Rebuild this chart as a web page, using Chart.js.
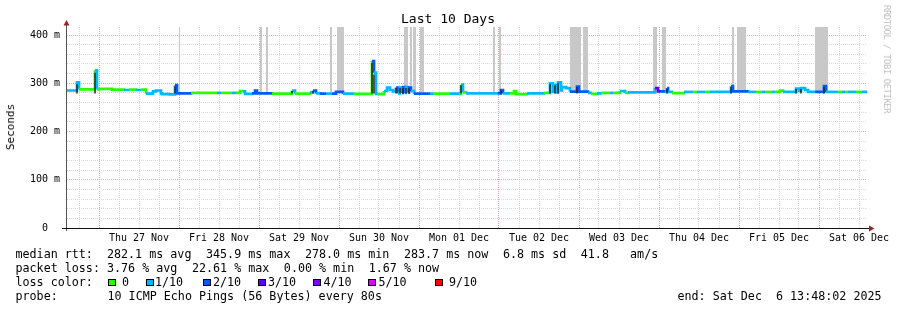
<!DOCTYPE html>
<html><head><meta charset="utf-8">
<script src="https://cdn.jsdelivr.net/npm/chart.js@4"></script>
<style>
html,body{margin:0;padding:0;background:#fff;}
#wrap{position:relative;width:897px;height:310px;overflow:hidden;font-family:'DejaVu Sans Mono',monospace;background:#fff;}
canvas{position:absolute;left:0;top:0;}
.t{position:absolute;white-space:pre;font-size:11.7px;line-height:14px;color:#000;}
.box{position:absolute;width:6px;height:5px;border:1px solid #000;}
</style></head>
<body><div id="wrap"><canvas id="c" width="897" height="310"></canvas></div>
<script>
// ---------------- data (hours since Wed 26 Nov 14:24, 10 day window) ----------------
const dayLabels = ['Thu 27 Nov','Fri 28 Nov','Sat 29 Nov','Sun 30 Nov','Mon 01 Dec','Tue 02 Dec','Wed 03 Dec','Thu 04 Dec','Fri 05 Dec','Sat 06 Dec'];
const firstMidnightHour = 9.6;
const windowHours = 240;

// median rtt (ms) step series and loss level (x/10) for each step
const medianHours = [0,3,3.6,8.4,9,9.6,13.5,17.1,18.6,20.7,22.2,23.7,25.8,26.7,28.2,28.5,30.9,32.4,33,37.2,45,46.2,49.5,50.7,51.9,52.8,53.4,55.5,56.4,57,61.5,67.5,68.4,72.9,73.8,74.7,75.9,77.7,79.5,80.7,82.8,85.8,91.5,92.1,92.7,93,95.1,96,96.9,97.8,98.7,99.3,99.9,100.5,100.8,101.4,101.7,102.3,102.6,103.2,104.1,108.9,109.8,114.9,117.6,118.2,118.8,119.7,129.3,130.2,130.8,132.9,134.1,134.7,138,143.1,144.6,144.9,145.8,146.4,147,147.3,148.2,148.5,149.7,150.9,153,153.6,156.3,157.2,159,160.2,162.9,163.8,165.9,167.4,168.3,176.4,177.3,177.9,179.4,180,180.3,181.5,185.1,187.8,189,191.4,192.9,199.2,199.8,204.3,206.7,208.5,209.4,211.5,212.4,213.9,214.8,218.7,219.6,220.2,221.4,222.3,224.4,227.1,227.7,231.3,232.5,233.4,234.3,236.7,238.5,240];
const medianMs = [285,302,287.5,327,287.5,288.5,287,286,287,286,287,278.5,283,285,279,277.5,277,296,279,280,280,280,280,280,284,283,278,279,285,279,278.5,285,278.5,281,285,279,278.5,278.5,278.5,282,278.5,278,345.9,322,278,277.5,284,291,286,283,291,279,291,280,292,280,292,281,291,284,278.5,278.5,278.5,278.5,278,297,281,279,279,286,279,279,284,277.5,279,280,280,300,282,296,281,302,285,292,290,282.5,293,282.5,280,278,279,280,280,280,284,280,281,290,283,283,282,290,282,279.5,282,282,282,282,282,294,283,282,282,282,282,282,282,285,282,289,284,290,286,282,282,294,282,282,282,282,282,282,282,283.7];
const medianLoss = [1,1,0,1,0,0,0,1,0,1,0,1,1,1,1,1,1,2,2,0,1,0,1,0,0,1,1,2,2,2,0,1,0,1,2,1,2,1,2,2,1,0,2,1,1,0,1,1,1,1,2,1,1,2,2,1,1,2,2,1,2,1,0,1,0,1,0,1,2,2,1,0,0,0,1,0,1,1,1,1,1,1,1,1,1,2,2,2,1,0,1,0,1,0,1,0,1,3,3,2,1,2,1,0,1,0,1,0,1,2,2,1,0,1,0,1,0,0,1,1,1,1,1,1,2,2,1,0,1,0,1,0,1,1];

// dense smoke columns reaching the top of the graph
const smokeStart = [33.6,57.9,59.7,78.9,81,101.1,102.9,103.8,105.9,127.8,129.6,150.9,154.8,175.8,178.5,199.5,201,224.4];
const smokeEnd   = [33.9,58.5,60.3,79.5,83.1,102.3,103.5,104.7,107.1,128.4,130.2,154.2,156.3,177,179.7,200.1,203.7,228.3];

// dark smoke spikes around the median
const spikeHours = [3,8.4,32.4,67.5,73.8,91.5,92.1,98.7,99.9,100.8,101.7,102.6,118.2,130.2,144.9,146.4,147.3,153,180,199.2,218.7,220.2,227.1];
const spikeTop   = [298,322,294,284,284,342,318,290,290,290,290,290,296,285,298,296,300,292,289,292,288,288,292];

const yTickLabelsEvery = 100;
const lossLegend = ['0','1/10','2/10','3/10','4/10','5/10','9/10'];
const lossColor = {0:'#26ff00',1:'#00b8ff',2:'#0059ff',3:'#5e00ff',4:'#7e00ff',5:'#dd00ff',9:'#ff0000'};
const lossLegendLevels = [0,1,2,3,4,5,9];

const medianItems = ['median rtt:  282.1 ms avg', '345.9 ms max', '278.0 ms min', '283.7 ms now', '6.8 ms sd', '41.8   am/s'];
const lossItems = ['packet loss: 3.76 % avg', '22.61 % max', '0.00 % min', '1.67 % now'];
const probeText = '10 ICMP Echo Pings (56 Bytes) every 80s';
const endText = 'end: Sat Dec  6 13:48:02 2025';

// ---------------- chart ----------------
const Y_MAX = 416.6;
const SMOKE_BASE = 281;
const SPIKE_BASE = 279;
const GRID_GREY = '#d9d9d9';
const GRID_RED = '#e6a6a6';

const medianData = medianHours.map((h,i)=>({x:h,y:medianMs[i]}));
const smokeData = [];
smokeStart.forEach((s,i)=>{ smokeData.push({x:s,y:Y_MAX},{x:smokeEnd[i],y:Y_MAX},{x:smokeEnd[i],y:null}); });
const spikeData = [];
spikeHours.forEach((h,i)=>{ spikeData.push({x:h,y:SPIKE_BASE},{x:h,y:spikeTop[i]},{x:h,y:null}); });

const gridHours = [];
for (let k = 0; firstMidnightHour - 6 + 6*k <= windowHours; k++) gridHours.push(Math.round((firstMidnightHour - 6 + 6*k)*10)/10);
const onCycle = (v, offset) => { const r = (v - firstMidnightHour - offset)/24; return Math.abs(r - Math.round(r)) < 1e-6; };
const isMidnight = v => onCycle(v, 0);
const isNoon = v => onCycle(v, 12);

const axesPlugin = {
  id:'rrdAxes',
  afterDraw(chart){
    const c = chart.ctx, a = chart.chartArea;
    c.save();
    c.lineWidth = 1;
    c.strokeStyle = '#555';
    c.beginPath(); c.moveTo(a.left-0.5, a.bottom+3); c.lineTo(a.left-0.5, a.top-3); c.stroke();
    c.strokeStyle = '#111';
    c.beginPath(); c.moveTo(a.left-5, a.bottom+0.5); c.lineTo(a.right+3, a.bottom+0.5); c.stroke();
    c.fillStyle = '#9a2222';
    c.beginPath(); c.moveTo(a.left-0.5, a.top-7); c.lineTo(a.left-3.5, a.top-1.5); c.lineTo(a.left+2.5, a.top-1.5); c.closePath(); c.fill();
    c.beginPath(); c.moveTo(a.right+7.5, a.bottom+0.5); c.lineTo(a.right+2, a.bottom-2.5); c.lineTo(a.right+2, a.bottom+3.5); c.closePath(); c.fill();
    c.restore();
  }
};

Chart.defaults.font.family = "'DejaVu Sans Mono', monospace";
new Chart(document.getElementById('c'), {
  type:'line',
  data:{datasets:[
    {label:'spikes', data:spikeData, borderColor:'#262626', borderWidth:1.5, pointRadius:0, fill:false, spanGaps:false, order:0},
    {label:'median', data:medianData, stepped:true, borderWidth:2.7, pointRadius:0, fill:false, order:1,
      borderColor:lossColor[1],
      segment:{borderColor: ctx => lossColor[medianLoss[ctx.p0DataIndex]]}},
    {label:'smoke', data:smokeData, borderWidth:0, borderColor:'rgba(0,0,0,0)', backgroundColor:'#c8c8c8', fill:{value:SMOKE_BASE}, pointRadius:0, spanGaps:false, order:2}
  ]},
  options:{
    responsive:false, animation:false, devicePixelRatio:1,
    layout:{padding:{left:0, top:27, right:30, bottom:62}},
    plugins:{legend:{display:false}, tooltip:{enabled:false}, title:{display:false}},
    scales:{
      x:{type:'linear', min:0, max:windowHours,
        afterBuildTicks: s => { s.ticks = gridHours.map(v=>({value:v})); },
        afterFit: s => { s.height = 20; },
        grid:{color: ctx => isMidnight(ctx.tick.value) ? GRID_RED : GRID_GREY, lineWidth:1, drawTicks:false},
        border:{display:false, dash:[1,1]},
        ticks:{autoSkip:false, maxRotation:0, minRotation:0, padding:4, color:'#000', font:{size:10},
          callback: v => isNoon(v) ? dayLabels[Math.round((v - firstMidnightHour - 12)/24)] : ''}
      },
      y:{type:'linear', min:0, max:Y_MAX,
        afterBuildTicks: s => { const t=[]; for(let v=0; v<=400; v+=20) t.push({value:v}); s.ticks=t; },
        afterFit: s => { s.width = 67; },
        grid:{color: ctx => (ctx.tick.value % 100 === 0) ? GRID_RED : GRID_GREY, lineWidth:1, drawTicks:false},
        border:{display:false, dash:[1,1]},
        ticks:{autoSkip:false, padding:7, color:'#000', font:{size:10},
          callback: v => v % yTickLabelsEvery === 0 ? (v === 0 ? '0  ' : v + ' m') : ''}
      }
    }
  },
  plugins:[axesPlugin]
});

// ---------------- text ----------------
const wrap = document.getElementById('wrap');
const CH = 7.04, GAP = 14.5, LEFT = 15.5;
function addText(txt, left, top, style){
  const d = document.createElement('div');
  d.className = 't'; d.textContent = txt;
  d.style.left = left + 'px'; d.style.top = top + 'px';
  if (style) Object.assign(d.style, style);
  wrap.appendChild(d); return d;
}
function addRow(items, top){
  let x = LEFT;
  items.forEach(s => { addText(s, x, top); x += s.length*CH + GAP; });
}
addText('Last 10 Days', 448, 11, {fontSize:'13px', lineHeight:'16px', transform:'translateX(-50%)'});
addText('Seconds', 11, 127, {fontSize:'11px', transform:'translate(-50%,-50%) rotate(-90deg)'});
addText('RRDTOOL / TOBI OETIKER', 887, 59, {fontSize:'9px', letterSpacing:'-0.5px', color:'#c0c0c0', transform:'translate(-50%,-50%) rotate(90deg)'});

const rowTop = [246.5, 260.6, 274.8, 289];
addRow(medianItems, rowTop[0]);
addRow(lossItems, rowTop[1]);
addText('loss color:', LEFT, rowTop[2]);
const boxX = [108, 146, 203, 258, 313, 368, 435];
const lblX = [122, 155, 213, 268, 323.5, 378.5, 449];
lossLegendLevels.forEach((lv,i)=>{
  const b = document.createElement('div');
  b.className='box'; b.style.left = boxX[i]+'px'; b.style.top='279px'; b.style.background = lossColor[lv];
  wrap.appendChild(b);
  addText(lossLegend[i], lblX[i], rowTop[2]);
});
addText('probe:', LEFT, rowTop[3]);
addText(probeText, 107.5, rowTop[3]);
addText(endText, 677.5, rowTop[3]);
</script>
</body></html>
